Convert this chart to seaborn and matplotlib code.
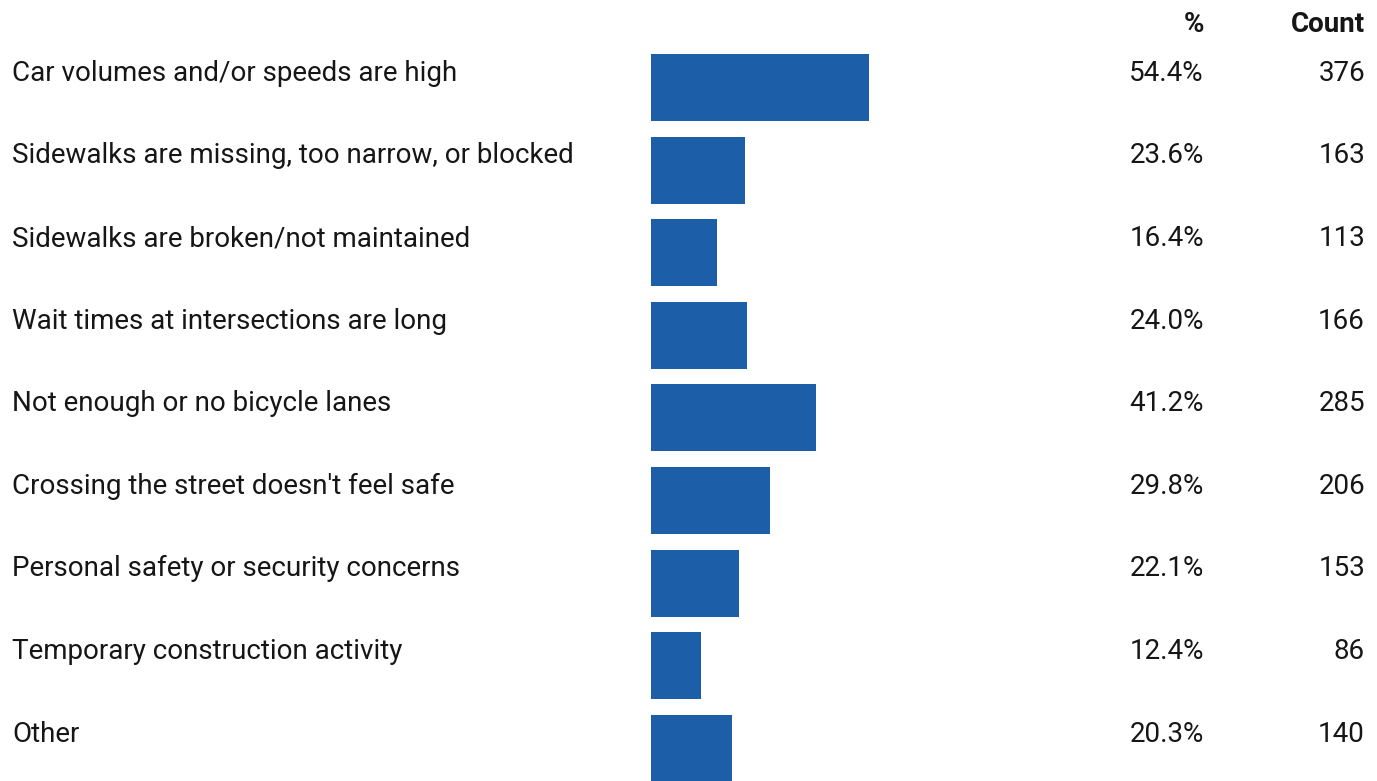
import matplotlib
matplotlib.use("Agg")
import matplotlib.pyplot as plt
import matplotlib.transforms as mtransforms
import seaborn as sns
import pandas as pd

categories = [
    "Car volumes and/or speeds are high",
    "Sidewalks are missing, too narrow, or blocked",
    "Sidewalks are broken/not maintained",
    "Wait times at intersections are long",
    "Not enough or no bicycle lanes",
    "Crossing the street doesn't feel safe",
    "Personal safety or security concerns",
    "Temporary construction activity",
    "Other",
]
percents = [54.4, 23.6, 16.4, 24.0, 41.2, 29.8, 22.1, 12.4, 20.3]
counts = [376, 163, 113, 166, 285, 206, 153, 86, 140]

df = pd.DataFrame({"category": categories, "percent": percents, "count": counts})

sns.set_theme(style="white")
plt.rcParams["font.family"] = ["Roboto", "DejaVu Sans"]

W, H = 1377, 781
fig = plt.figure(figsize=(W / 100, H / 100), dpi=100)
ax = fig.add_axes([651 / W, 0, 400 / W, 1])

sns.barplot(data=df, x="percent", y="category", orient="h", color="#1c5ea8",
            saturation=1, width=0.81, linewidth=0, ax=ax)
ax.set_xlim(0, 100)
ax.set_ylim(8.396, -1.059)
ax.set_axis_off()

trans = mtransforms.blended_transform_factory(fig.transFigure, ax.transData)
fs = 20
for i, (cat, pct, cnt) in enumerate(zip(categories, percents, counts)):
    y = i - 0.08
    fig.text(12 / W, y, cat, transform=trans, ha="left", va="baseline",
             fontsize=fs, color="#161616")
    fig.text(1204 / W, y, f"{pct:.1f}%", transform=trans, ha="right",
             va="baseline", fontsize=fs, color="#161616")
    fig.text(1365 / W, y, f"{cnt}", transform=trans, ha="right",
             va="baseline", fontsize=fs, color="#161616")

fig.text(1204 / W, -0.67, "%", transform=trans, ha="right", va="baseline",
         fontsize=fs, fontweight="bold", color="#161616")
fig.text(1365 / W, -0.67, "Count", transform=trans, ha="right", va="baseline",
         fontsize=fs, fontweight="bold", color="#161616")

fig.savefig("out.png", dpi=100, facecolor="white")
